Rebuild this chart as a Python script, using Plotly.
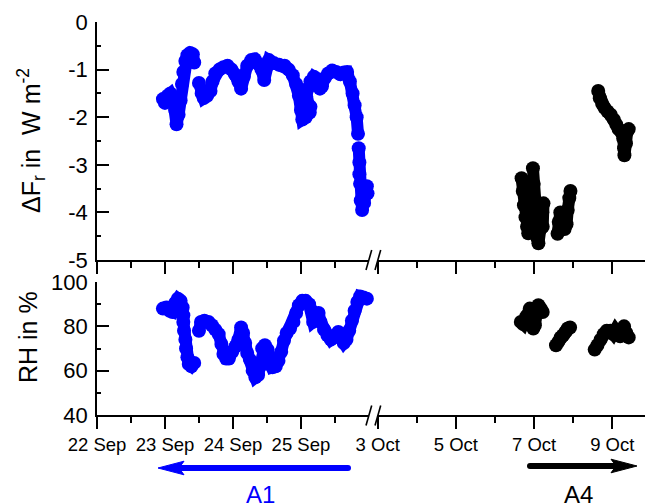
import plotly.graph_objects as go

# ---------------- data ----------------
# Left segment: days of September; right segment: days of October
sep_day_fr = [22.97, 23.00, 23.04, 23.08, 23.12, 23.15, 23.17, 23.20, 23.23, 23.25, 23.27, 23.30,
              23.33, 23.37, 23.41, 23.43, None,
              23.50, 23.54, 23.57, 23.62, 23.67, 23.70, 23.74, 23.80, 23.86, 23.92, 23.98, 24.03,
              24.08, 24.12, 24.16, 24.21, 24.27, 24.32, 24.37, 24.42, 24.46, 24.49, 24.53, 24.60,
              24.68, 24.76, 24.82, 24.88, 24.93, 24.97, 25.00, 25.02, 25.07, 25.13, 25.14, 25.08,
              25.10, 25.14, 25.19, 25.24, 25.28, 25.31, 25.35, 25.40, 25.46, 25.52, 25.58, 25.63,
              25.68, 25.72, 25.76, 25.79, 25.82, 25.84, None,
              25.85, 25.86, 25.86, 25.87, 25.88, 25.90, 25.93, 25.95, 25.97, 25.98]
sep_fr = [-1.62, -1.70, -1.55, -1.50, -1.62, -1.85, -2.15, -1.95, -1.65, -1.30, -1.05, -0.82,
          -0.70, -0.65, -0.68, -0.85, None,
          -1.28, -1.50, -1.60, -1.55, -1.45, -1.25, -1.08, -1.00, -0.95, -0.92, -1.00, -1.10,
          -1.25, -1.40, -1.15, -0.92, -0.80, -0.78, -0.88, -1.00, -1.22, -0.95, -0.80, -0.86,
          -0.90, -0.92, -1.00, -1.12, -1.30, -1.55, -1.85, -2.05, -2.00, -1.90, -1.78, -1.60,
          -1.40, -1.25, -1.15, -1.20, -1.40, -1.35, -1.18, -1.08, -1.02, -1.05, -1.10, -1.06,
          -1.05, -1.25, -1.50, -1.75, -2.00, -2.35, None,
          -2.65, -2.95, -3.20, -3.40, -3.75, -3.95, -3.80, -3.55, -3.45, -3.60]

sep_day_rh = [22.97, 23.02, 23.07, 23.11, 23.15, 23.19, 23.23, 23.26, 23.27, 23.27, 23.28, 23.30,
              23.31, 23.33, 23.35, 23.39, 23.43, None,
              23.50, 23.53, 23.58, 23.64, 23.69, 23.74, 23.79, 23.83, 23.86, 23.90, 23.94, 23.99,
              24.04, 24.08, 24.12, 24.15, 24.18, 24.21, 24.25, 24.29, 24.33, 24.37, 24.40, 24.43,
              24.47, 24.51, 24.54, 24.58, 24.63, 24.67, 24.71, 24.75, 24.79, 24.84, 24.89, 24.93,
              24.97, 25.02, 25.07, 25.12, 25.16, 25.18, 25.22, 25.26, 25.29, 25.34, 25.39, 25.44,
              25.50, 25.55, 25.59, 25.63, 25.67, 25.71, 25.75, 25.79, 25.83, 25.87, 25.92, 25.97]
sep_rh = [88.0, 88.5, 87.0, 86.5, 90.5, 92.5, 91.5, 88.5, 85.0, 82.0, 78.0, 74.0,
          70.0, 66.0, 63.0, 62.0, 63.5, None,
          78.0, 82.0, 82.5, 82.0, 80.5, 78.5, 76.5, 72.0, 67.5, 65.5, 65.5, 68.5,
          71.0, 74.0, 79.5, 77.0, 72.5, 68.0, 65.0, 60.0, 57.0, 58.0, 62.0, 70.0,
          71.5, 69.5, 66.0, 61.5, 62.0, 64.5, 68.5, 73.5, 77.0, 79.0, 82.0, 86.0,
          89.5, 91.5, 91.5, 90.0, 87.0, 82.0, 83.0, 86.0, 82.0, 78.5, 76.0, 74.0,
          75.5, 77.5, 74.5, 72.5, 74.0, 78.0, 82.5, 87.0, 91.0, 93.5, 93.0, 92.5]

oct_day_fr = [6.68, 6.71, 6.74, 6.78, 6.82, 6.85, None,
              6.97, 6.99, 7.01, 7.03, 7.06, 7.09, 7.11, 7.16, 7.21, 7.24, 7.22, None,
              7.60, 7.63, 7.67, 7.72, 7.78, 7.83, 7.86, 7.90, 7.93, None,
              8.64, 8.68, 8.74, 8.80, 8.88, 8.96, 9.04, 9.10, 9.16, 9.22, 9.28, 9.30, 9.31,
              9.35, 9.38, 9.42]
oct_fr = [-3.28, -3.55, -3.85, -4.10, -4.30, -4.44, None,
          -3.07, -3.40, -3.75, -4.05, -4.35, -4.55, -4.65, -4.35, -4.00, -3.81, -4.30, None,
          -4.45, -4.20, -4.00, -4.10, -4.35, -4.25, -3.95, -3.70, -3.55, None,
          -1.45, -1.60, -1.72, -1.80, -1.88, -1.95, -2.05, -2.15, -2.25, -2.30, -2.45, -2.65, -2.80,
          -2.55, -2.30, -2.25]

oct_day_rh = [6.66, 6.72, 6.80, 6.89, 6.94, 6.98, 7.02, 7.07, 7.11, 7.17, 7.22, None,
              7.56, 7.62, 7.68, 7.74, 7.80, 7.86, 7.92, None,
              8.55, 8.62, 8.70, 8.78, 8.86, 8.95, 9.02, 9.08, 9.15, 9.20, 9.26, 9.30, 9.36, 9.42]
oct_rh = [82.0, 81.0, 84.5, 88.0, 84.0, 79.0, 80.5, 86.0, 89.5, 88.0, 86.5, None,
          71.5, 73.0, 75.0, 76.0, 77.5, 79.0, 79.5, None,
          69.5, 71.5, 74.0, 76.5, 78.0, 78.0, 76.5, 78.5, 77.0, 75.5, 78.5, 80.0, 77.0, 75.0]

sep_tick_vals = [22, 23, 24, 25]
sep_tick_text = ["22 Sep", "23 Sep", "24 Sep", "25 Sep"]
sep_minor_vals = [22.5, 23.5, 24.5, 25.5]
oct_tick_vals = [3, 5, 7, 9]
oct_tick_text = ["3 Oct", "5 Oct", "7 Oct", "9 Oct"]
oct_minor_vals = [4, 6, 8, 10]
fr_tick_vals = [-5, -4, -3, -2, -1, 0]
fr_tick_text = ["-5", "-4", "-3", "-2", "-1", "0"]
fr_minor_vals = [-4.5, -3.5, -2.5, -1.5, -0.5]
rh_tick_vals = [40, 60, 80, 100]
rh_tick_text = ["40", "60", "80", "100"]
rh_minor_vals = [50, 70, 90]

# ---------------- layout geometry ----------------
# the page body has an 8 px margin; all pixel positions below are window positions
OFF = 8
W, H = 653 - OFF, 504 - OFF
L, R, T, B = 97 - OFF, 0, 22 - OFF, 504 - 415
PW, PH = W - L - R, H - T - B


def px(x):
    return (x - OFF - L) / PW


def py(y):
    return (H - B - (y - OFF)) / PH


BLUE = "#0000FF"
BLACK = "#000000"
FONT = "Liberation Sans, Arial, sans-serif"
MS = 14
LW = 12

fig = go.Figure()


def add_series(xs, ys, color, xa, ya):
    fig.add_trace(go.Scatter(
        x=xs, y=ys, xaxis=xa, yaxis=ya, mode="lines+markers",
        line=dict(color=color, width=LW), connectgaps=False,
        marker=dict(color=color, size=MS, line=dict(width=0)),
        cliponaxis=False, showlegend=False, hoverinfo="skip"))


add_series(sep_day_rh, sep_rh, BLUE, "x", "y")
add_series(oct_day_rh, oct_rh, BLACK, "x2", "y")
add_series(sep_day_fr, sep_fr, BLUE, "x3", "y2")
add_series(oct_day_fr, oct_fr, BLACK, "x4", "y2")

split = px(373)
left_range = [22, 22 + (373 - 97.3) / 67.9]
right_range = [3 - (377.7 - 373) / 39.1, 3 + (653 - 377.7) / 39.1]
top_dom = [py(260), 1]
bot_dom = [0, py(282)]

axis_common = dict(showline=True, linecolor=BLACK, linewidth=1.6, showgrid=False, zeroline=False,
                   ticks="outside", ticklen=12, tickwidth=1.6, tickcolor=BLACK,
                   tickfont=dict(family=FONT, size=18.5, color=BLACK), tickmode="array",
                   automargin=False, fixedrange=True)


def xaxis(dom, rng, vals, text, minor, anchor, labels):
    d = dict(axis_common)
    d.update(domain=dom, range=rng, tickvals=vals, ticktext=text, anchor=anchor,
             showticklabels=labels,
             minor=dict(tickmode="array", tickvals=minor, ticks="outside", ticklen=6,
                        tickwidth=1.6, tickcolor=BLACK))
    return d


def yaxis(dom, rng, vals, text, minor, anchor):
    d = dict(axis_common)
    d.update(domain=dom, range=rng, tickvals=vals, ticktext=text, anchor=anchor,
             ticks="inside", ticklabelstandoff=3,
             tickfont=dict(family=FONT, size=22, color=BLACK),
             minor=dict(tickmode="array", tickvals=minor, ticks="inside", ticklen=4,
                        tickwidth=1.6, tickcolor=BLACK))
    return d


fig.update_layout(
    width=W, height=H, autosize=False,
    margin=dict(l=L, r=R, t=T, b=B, pad=0),
    paper_bgcolor="white", plot_bgcolor="white",
    font=dict(family=FONT, color=BLACK),
    xaxis=xaxis([0, split], left_range, sep_tick_vals, sep_tick_text, sep_minor_vals, "y", True),
    xaxis2=xaxis([split, 1], right_range, oct_tick_vals, oct_tick_text, oct_minor_vals, "y", True),
    xaxis3=xaxis([0, split], left_range, sep_tick_vals, sep_tick_text, sep_minor_vals, "y2", False),
    xaxis4=xaxis([split, 1], right_range, oct_tick_vals, oct_tick_text, oct_minor_vals, "y2", False),
    yaxis=yaxis(bot_dom, [40, 100], rh_tick_vals, rh_tick_text, rh_minor_vals, "x"),
    yaxis2=yaxis(top_dom, [-5, 0], fr_tick_vals, fr_tick_text, fr_minor_vals, "x3"),
)

shapes = []
# axis breaks "//"
for yc in (260, 415.5):
    shapes.append(dict(type="rect", xref="paper", yref="paper", x0=px(368.5), x1=px(377.5),
                       y0=py(yc + 2.5), y1=py(yc - 2.5), fillcolor="white", line=dict(width=0),
                       layer="above"))
    for x0 in (366, 375):
        shapes.append(dict(type="line", xref="paper", yref="paper", x0=px(x0), x1=px(x0 + 5.7),
                           y0=py(yc + 10), y1=py(yc - 10), line=dict(color=BLACK, width=1.6),
                           layer="above"))


# arrows
def arrow(tail, tip, yy, color):
    s = 1 if tip > tail else -1
    back = tip - s * 26
    notch = tip - s * 21
    return [
        dict(type="line", xref="paper", yref="paper", x0=px(tail), x1=px(notch + s * 1),
             y0=py(yy), y1=py(yy), line=dict(color=color, width=6)),
        dict(type="circle", xref="paper", yref="paper", x0=px(tail - 3), x1=px(tail + 3),
             y0=py(yy + 3), y1=py(yy - 3), fillcolor=color, line=dict(width=0)),
        dict(type="path", xref="paper", yref="paper",
             path=f"M {px(tip)},{py(yy)} L {px(back)},{py(yy - 6.8)} L {px(notch)},{py(yy)} "
                  f"L {px(back)},{py(yy + 6.8)} Z",
             fillcolor=color, line=dict(color=color, width=1)),
    ]


shapes += arrow(348, 158, 468, BLUE)
shapes += arrow(530, 637, 466, BLACK)
fig.update_layout(shapes=shapes)

annotations = [
    dict(text="ΔF<sub>r</sub> in&nbsp; W m<sup>-2</sup>", xref="paper", yref="paper",
         x=px(31), y=py(141), textangle=-90, showarrow=False, xanchor="center", yanchor="middle",
         font=dict(family=FONT, size=25, color=BLACK)),
    dict(text="RH in %", xref="paper", yref="paper", x=px(28), y=py(337), textangle=-90,
         showarrow=False, xanchor="center", yanchor="middle",
         font=dict(family=FONT, size=25, color=BLACK)),
    dict(text="A1", xref="paper", yref="paper", x=px(260), y=py(494), showarrow=False,
         xanchor="center", yanchor="middle", font=dict(family=FONT, size=24, color=BLUE)),
    dict(text="A4", xref="paper", yref="paper", x=px(578), y=py(494), showarrow=False,
         xanchor="center", yanchor="middle", font=dict(family=FONT, size=24, color=BLACK)),
]
fig.update_layout(annotations=annotations)

fig.write_html("out.html")
